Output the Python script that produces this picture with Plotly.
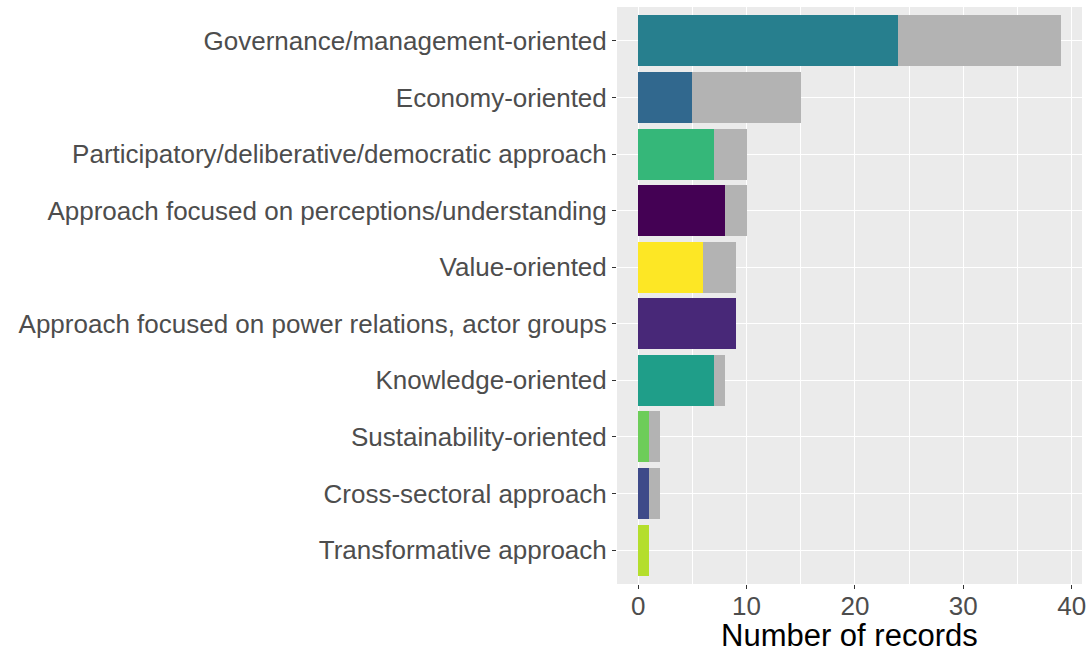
import plotly.graph_objects as go

categories = [
    "Governance/management-oriented",
    "Economy-oriented",
    "Participatory/deliberative/democratic approach",
    "Approach focused on perceptions/understanding",
    "Value-oriented",
    "Approach focused on power relations, actor groups",
    "Knowledge-oriented",
    "Sustainability-oriented",
    "Cross-sectoral approach",
    "Transformative approach",
]
highlighted = [24, 5, 7, 8, 6, 9, 7, 1, 1, 1]
totals = [39, 15, 10, 10, 9, 9, 8, 2, 2, 1]
colors = ["#277F8E", "#31688E", "#35B779", "#440154", "#FDE725",
          "#482878", "#1F9E89", "#6DCD59", "#3E4A89", "#B4DE2C"]
remainder = [t - h for t, h in zip(totals, highlighted)]
x_ticks = [0, 10, 20, 30, 40]

fig = go.Figure()
fig.add_trace(go.Bar(
    y=categories, x=highlighted, orientation="h",
    marker=dict(color=colors, line=dict(width=0)), width=0.9,
    showlegend=False, hoverinfo="skip",
))
fig.add_trace(go.Bar(
    y=categories, x=remainder, orientation="h",
    marker=dict(color="#B3B3B3", line=dict(width=0)), width=0.9,
    showlegend=False, hoverinfo="skip",
))

fig.update_layout(
    barmode="stack",
    width=1091, height=648,
    margin=dict(l=617, r=9, t=7, b=64, autoexpand=False),
    paper_bgcolor="white",
    plot_bgcolor="#EBEBEB",
    font=dict(family="Liberation Sans, Arial, sans-serif"),
    xaxis=dict(
        range=[-1.95, 40.95],
        tickvals=x_ticks,
        ticks="outside", ticklen=4, tickcolor="#333333", tickwidth=1,
        tickfont=dict(size=26, color="#4D4D4D"),
        ticklabelstandoff=-5,
        showgrid=True, gridcolor="white", gridwidth=1.2,
        minor=dict(dtick=5, tick0=5, showgrid=True, gridcolor="white", gridwidth=0.6, ticks=""),
        zeroline=False, showline=False, automargin=False,
    ),
    yaxis=dict(
        categoryorder="array", categoryarray=categories[::-1],
        range=[-0.6, 9.6],
        ticks="outside", ticklen=4, tickcolor="#333333", tickwidth=1,
        tickfont=dict(size=26, color="#4D4D4D"),
        showgrid=True, gridcolor="white", gridwidth=1.2,
        zeroline=False, showline=False, automargin=False,
    ),
    annotations=[dict(
        text="Number of records", xref="x domain", yref="paper",
        x=0.5, y=0, xanchor="center", yanchor="top", yshift=-32,
        showarrow=False, font=dict(size=31, color="black"),
    )],
)

fig.write_html("out.html", post_script="document.body.style.margin='0';",
               config={"displayModeBar": False})
